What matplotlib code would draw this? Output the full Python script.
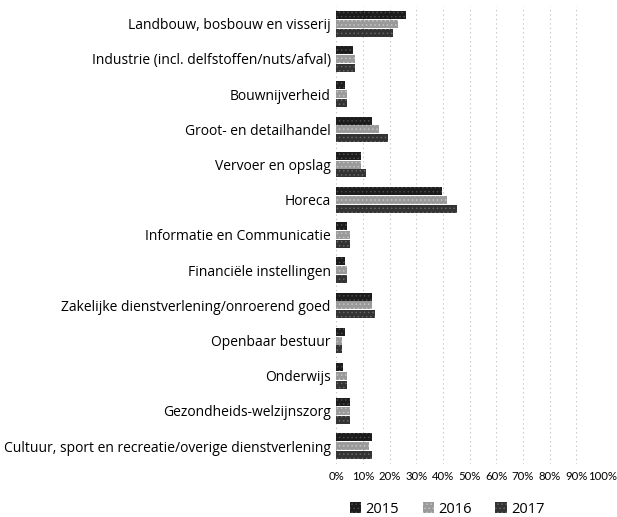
import matplotlib
matplotlib.use("Agg")
import matplotlib.pyplot as plt
import numpy as np

#Data
categories=["Landbouw, bosbouw en visserij","Industrie (incl. delfstoffen/nuts/afval)",
  "Bouwnijverheid","Groot- en detailhandel","Vervoer en opslag","Horeca",
  "Informatie en Communicatie","Financiële instellingen",
  "Zakelijke dienstverlening/onroerend goed","Openbaar bestuur","Onderwijs",
  "Gezondheids-welzijnszorg","Cultuur, sport en recreatie/overige dienstverlening"]
v2015=[26.2,6.2,3.4,13.4,9.4,39.6,4.0,3.4,13.4,3.4,2.5,5.2,13.4]
v2016=[23.3,7.1,4.2,16.2,9.2,41.5,5.2,4.2,13.4,2.1,4.2,5.0,12.1]
v2017=[21.2,7.1,4.2,19.4,11.2,45.4,5.2,4.2,14.4,2.1,4.2,5.2,13.4]
years=["2015","2016","2017"]
xticks=[0,10,20,30,40,50,60,70,80,90,100]

plt.rcParams['font.family']=['Open Sans','DejaVu Sans']
plt.rcParams['hatch.linewidth']=0.6
fig=plt.figure(figsize=(6.17,5.17),dpi=100)
ax=fig.add_axes([0.545,0.103,0.432,0.885])

y=np.arange(len(categories))
h=0.23
colors=["#1c1c1c","#9a9a9a","#333333"]
hatchcol=["#4a4a4a","#c4c4c4","#666666"]
for i,(vals,c) in enumerate(zip([v2015,v2016,v2017],colors)):
  ax.barh(y+(i-1)*(h+0.02),vals,height=h,color=c,label=years[i],zorder=3,
    hatch="....",edgecolor=hatchcol[i],linewidth=0)

ax.set_ylim(len(categories)-0.5,-0.5)
ax.set_xlim(0,100)
ax.set_yticks(y)
ax.set_yticklabels(categories,fontsize=10)
ax.set_xticks(xticks)
ax.set_xticklabels([str(t)+"%" for t in xticks],fontsize=8.2,family=['Lato','DejaVu Sans'])
ax.tick_params(length=0,pad=4)
ax.tick_params(axis='x',pad=5)
for s in ax.spines.values():
  s.set_visible(False)
ax.grid(axis='x',color="#bbbbbb",linestyle=(0,(1,3)),linewidth=0.8,zorder=0)

fig.legend(loc='lower center',bbox_to_anchor=(0.725,-0.025),ncol=3,frameon=False,
  fontsize=10.5,handlelength=0.8,handleheight=0.8,handletextpad=0.3,columnspacing=1.6)
fig.savefig("out.png",dpi=100)
